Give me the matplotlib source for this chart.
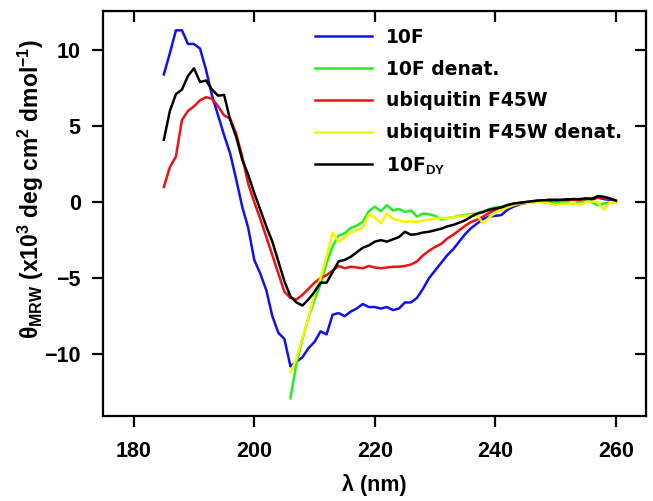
import matplotlib
matplotlib.use("Agg")
import matplotlib.pyplot as plt

# wavelength grid (nm)
wl_native = list(range(185, 261))
wl_denat = list(range(206, 261))

# theta_MRW (x10^3 deg cm2 dmol-1)
f10 = [8.4, 9.8, 11.3, 11.3, 10.4, 10.4, 10.1, 8.7, 7.0, 5.7,
       4.4, 3.2, 1.5, -0.3, -1.7, -3.8, -4.7, -5.8, -7.5, -8.6,
       -9.0, -10.8, -10.5, -10.2, -9.6, -9.2, -8.5, -8.7, -7.4, -7.3,
       -7.5, -7.2, -7.0, -6.7, -6.9, -6.9, -7.0, -6.9, -7.1, -7.0,
       -6.6, -6.6, -6.3, -5.7, -5.0, -4.5, -4.0, -3.5, -3.1, -2.6,
       -2.1, -1.7, -1.4, -1.1, -0.95, -0.9, -0.85, -0.5, -0.3, -0.15,
       -0.05, 0.0, 0.05, 0.1, 0.1, 0.15, 0.1, 0.15, 0.2, 0.1,
       0.2, 0.15, 0.3, 0.2, 0.15, 0.0]

ubq = [1.0, 2.3, 3.0, 5.4, 6.0, 6.3, 6.7, 6.9, 6.8, 6.3,
       5.7, 5.5, 4.5, 3.0, 1.2, 0.0, -1.1, -2.3, -3.5, -4.7,
       -5.9, -6.3, -6.4, -6.1, -5.7, -5.3, -5.0, -4.8, -4.5, -4.2,
       -4.35, -4.25, -4.3, -4.35, -4.2, -4.3, -4.35, -4.3, -4.25, -4.25,
       -4.2, -4.1, -3.9, -3.5, -3.2, -2.95, -2.75, -2.4, -2.15, -1.85,
       -1.55, -1.3, -1.15, -0.95, -0.7, -0.5, -0.35, -0.2, -0.1, -0.05,
       0.0, 0.05, 0.1, 0.1, 0.15, 0.1, 0.15, 0.2, 0.15, 0.15,
       0.2, 0.25, 0.3, 0.25, 0.2, 0.1]

f10_dy = [4.1, 6.0, 7.1, 7.4, 8.3, 8.8, 7.9, 8.0, 7.4, 7.0,
          7.05, 5.4, 4.3, 2.8, 1.8, 0.6, -0.5, -1.6, -2.6, -3.9,
          -5.2, -6.2, -6.6, -6.8, -6.4, -5.9, -5.3, -5.3, -4.6, -3.9,
          -3.8, -3.6, -3.3, -3.0, -2.85, -2.6, -2.5, -2.6, -2.45, -2.3,
          -1.95, -2.15, -2.1, -2.0, -1.95, -1.85, -1.75, -1.6, -1.5, -1.35,
          -1.2, -0.95, -0.75, -0.65, -0.5, -0.42, -0.35, -0.2, -0.1, -0.05,
          0.0, 0.05, 0.1, 0.12, 0.15, 0.15, 0.15, 0.18, 0.2, 0.2,
          0.25, 0.2, 0.4, 0.35, 0.25, 0.1]

f10_denat = [-12.9, -10.6, -9.0, -7.6, -6.4, -5.4, -4.0, -2.9, -2.2, -2.05,
             -1.7, -1.55, -1.3, -0.6, -0.3, -0.6, -0.2, -0.55, -0.45, -0.65,
             -0.55, -0.95, -0.75, -0.8, -0.9, -1.15, -1.05, -1.0, -0.9, -0.85,
             -0.8, -0.75, -0.6, -0.45, -0.35, -0.3, -0.2, -0.1, -0.05, 0.0,
             0.0, 0.05, 0.0, -0.05, -0.1, 0.05, 0.0, -0.1, 0.05, 0.1,
             0.0, -0.2, -0.1, 0.0, -0.05]

ubq_denat = [-11.2, -10.3, -8.9, -7.6, -6.0, -5.0, -3.6, -2.0, -2.6, -2.3,
             -2.0, -1.85, -1.7, -0.8, -1.0, -1.4, -0.75, -1.1, -1.2, -1.3,
             -1.25, -1.3, -1.2, -1.15, -1.1, -1.05, -1.05, -1.0, -0.95, -0.9,
             -0.85, -0.9, -1.4, -1.0, -0.7, -0.5, -0.35, -0.2, -0.1, -0.05,
             -0.05, 0.0, 0.0, -0.1, -0.2, -0.1, -0.1, -0.05, -0.2, 0.0,
             0.05, 0.0, -0.5, 0.0, -0.05]

xticks = [180, 200, 220, 240, 260]
yticks = [-10, -5, 0, 5, 10]

plt.rcParams["font.family"] = ["Liberation Sans", "DejaVu Sans"]
plt.rcParams["font.weight"] = "bold"
plt.rcParams["mathtext.fontset"] = "custom"
plt.rcParams["mathtext.rm"] = "Liberation Sans:bold"
plt.rcParams["mathtext.bf"] = "Liberation Sans:bold"
plt.rcParams["mathtext.it"] = "Liberation Sans:bold"

fig = plt.figure(figsize=(6.53, 5.01), dpi=100)
ax = fig.add_axes([0.1577, 0.1687, 0.8316, 0.8093])

lw = 1.8
ax.plot(wl_native, f10, color="#1010f0", lw=lw, label="10F")
ax.plot(wl_denat, f10_denat, color="#22ee22", lw=lw, label="10F denat.")
ax.plot(wl_native, ubq, color="#ee1111", lw=lw, label="ubiquitin F45W")
ax.plot(wl_denat, ubq_denat, color="#f5f500", lw=lw, label="ubiquitin F45W denat.")
ax.plot(wl_native, f10_dy, color="black", lw=lw, label="10F$_{\\mathbf{DY}}$")

ax.set_xlim(174.9, 265.0)
ax.set_ylim(-14.1, 12.57)
ax.set_xticks(xticks)
ax.set_yticks(yticks)

for spine in ax.spines.values():
    spine.set_linewidth(1.6)

ax.tick_params(axis="both", labelsize=15.5, width=1.6, length=8, direction="out")
ax.tick_params(axis="x", pad=10)
ax.tick_params(axis="y", pad=8)

# inward ticks on top and right, no labels
top = ax.secondary_xaxis("top")
top.set_xticks(xticks)
top.tick_params(direction="in", length=8, width=1.6, labeltop=False)
right = ax.secondary_yaxis("right")
right.set_yticks(yticks)
right.tick_params(direction="in", length=8, width=1.6, labelright=False)

ax.set_xlabel("λ (nm)", fontsize=15.5, fontweight="bold", labelpad=8)
ax.set_ylabel("θ$_{\\mathbf{MRW}}$ (x10$^{\\mathbf{3}}$ deg cm$^{\\mathbf{2}}$ dmol$^{\\mathbf{-1}}$)",
              fontsize=16.5, fontweight="bold")
ax.yaxis.set_label_coords(-0.105, 0.56)

ax.legend(loc="upper left", bbox_to_anchor=(0.36, 1.0), frameon=False,
          prop={"family": "DejaVu Sans", "weight": "bold", "size": 13.5},
          handlelength=3.0, handletextpad=0.75, labelspacing=0.68)

fig.savefig("out.png", dpi=100)
